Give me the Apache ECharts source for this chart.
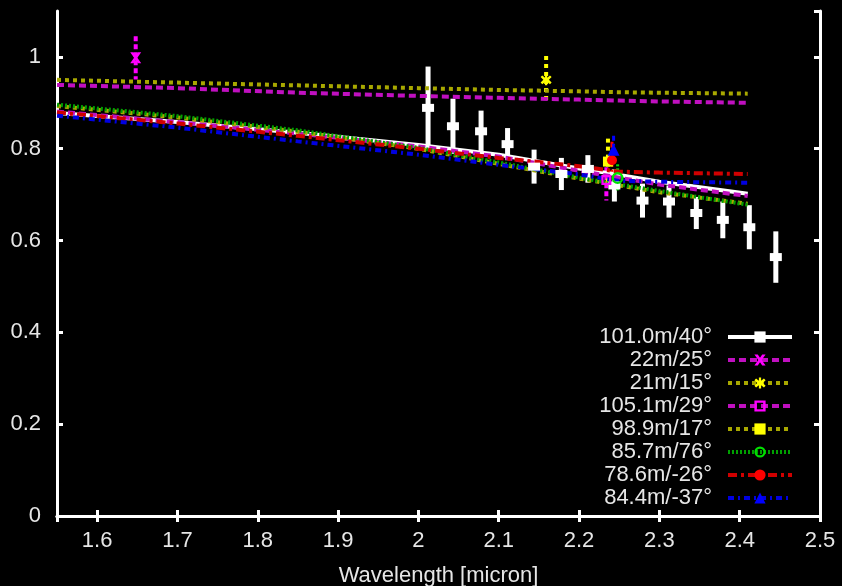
<!DOCTYPE html>
<html>
<head>
<meta charset="utf-8">
<script src="https://cdn.jsdelivr.net/npm/echarts@6/dist/echarts.min.js"></script>
<style>
html,body{margin:0;padding:0;background:#000;}
#chart{width:842px;height:586px;}
</style>
</head>
<body>
<div id="chart"></div>
<script>
// ---- data ----
const seriesNames = ['101.0m/40°', '22m/25°', '21m/15°', '105.1m/29°', '98.9m/17°', '85.7m/76°', '78.6m/-26°', '84.4m/-37°'];

// model curves (wavelength grid and values)
const modelX = [1.55, 1.7, 1.85, 2.0, 2.1, 2.2, 2.25, 2.3, 2.41];
const model_101 = [0.878, 0.858, 0.835, 0.808, 0.787, 0.757, 0.743, 0.728, 0.702];
const model_22  = [0.939, 0.932, 0.922, 0.915, 0.911, 0.907, 0.905, 0.903, 0.900];
const model_21  = [0.950, 0.944, 0.938, 0.932, 0.928, 0.925, 0.923, 0.922, 0.920];
const model_105 = [0.881, 0.858, 0.833, 0.805, 0.783, 0.752, 0.737, 0.722, 0.697];
const model_98  = [0.893, 0.868, 0.837, 0.800, 0.767, 0.735, 0.720, 0.705, 0.680];
const model_85  = [0.896, 0.871, 0.840, 0.802, 0.770, 0.737, 0.722, 0.708, 0.678];
const model_78  = [0.879, 0.855, 0.828, 0.800, 0.780, 0.762, 0.750, 0.748, 0.745];
const model_84  = [0.872, 0.846, 0.816, 0.787, 0.765, 0.744, 0.730, 0.728, 0.726];

// measured points: wavelength, value, error
const obs101X = [2.012, 2.043, 2.078, 2.111, 2.144, 2.178, 2.211, 2.244, 2.279, 2.312, 2.346, 2.379, 2.412, 2.445];
const obs101Y = [0.889, 0.849, 0.838, 0.810, 0.761, 0.745, 0.756, 0.720, 0.687, 0.685, 0.660, 0.645, 0.629, 0.564];
const obs101E = [0.090, 0.060, 0.045, 0.035, 0.037, 0.035, 0.030, 0.035, 0.037, 0.035, 0.035, 0.040, 0.048, 0.056];
const obs22  = [1.648, 0.998, 0.047];
const obs21  = [2.159, 0.950, 0.052];
const obs105 = [2.234, 0.732, 0.045];
const obs98  = [2.236, 0.772, 0.050];
const obs85  = [2.248, 0.736, 0.030];
const obs78  = [2.241, 0.775, 0.040];
const obs84  = [2.243, 0.798, 0.030];

const xTicksMin = 1.55, xTicksMax = 2.5;
const yTicksMin = 0, yTicksMax = 1.1, yTickStep = 0.2;

// ---- styles ----
const FONT = 'Liberation Sans';
const hollowSquare = 'path://M0,0 L10,0 L10,10 L0,10 Z M2.2,2.2 L2.2,7.8 L7.8,7.8 L7.8,2.2 Z';
const hollowCircle = 'path://M5,0 A5,5 0 1,1 5,10 A5,5 0 1,1 5,0 Z M5,2 A3,3 0 1,0 5,8 A3,3 0 1,0 5,2 Z';
const crossSym = 'path://M0,0 L3,0 L5,3 L7,0 L10,0 L6.5,5 L10,10 L7,10 L5,7 L3,10 L0,10 L3.5,5 Z';
const starSym = 'path://M4,0 L6,0 L6,3 L8.5,1 L10,2.5 L7.5,5 L10,7.5 L8.5,9 L6,7 L6,10 L4,10 L4,7 L1.5,9 L0,7.5 L2.5,5 L0,2.5 L1.5,1 L4,3 Z';

const defs = [
  {name: seriesNames[0], model: model_101, color: '#ffffff', lineColor: '#ffffff', dash: 'solid', width: 4, symbol: 'rect', size: [12, 8], ebWidth: 5, ebDash: null},
  {name: seriesNames[1], model: model_22, obs: obs22, color: '#ff00ff', lineColor: '#c010c0', dash: [7, 4], width: 4, symbol: crossSym, size: 11, ebWidth: 4, ebDash: [5, 3]},
  {name: seriesNames[2], model: model_21, obs: obs21, color: '#ffff00', lineColor: '#a8a800', dash: [4, 4], width: 4, symbol: starSym, size: 11, ebWidth: 4, ebDash: [4, 4]},
  {name: seriesNames[3], model: model_105, obs: obs105, color: '#ff00ff', lineColor: '#c010c0', dash: [7, 4], width: 4, symbol: hollowSquare, size: 10, ebWidth: 4, ebDash: [5, 3]},
  {name: seriesNames[4], model: model_98, obs: obs98, color: '#ffff00', lineColor: '#a8a800', dash: [4, 4], width: 4, symbol: 'rect', size: 10, ebWidth: 4, ebDash: [4, 4]},
  {name: seriesNames[5], model: model_85, obs: obs85, color: '#00e000', lineColor: '#00a000', dash: [2, 2], width: 4, symbol: hollowCircle, size: 12, ebWidth: 3, ebDash: [2, 2]},
  {name: seriesNames[6], model: model_78, obs: obs78, color: '#ff0000', lineColor: '#d00000', dash: [9, 4, 3, 4], width: 4, symbol: 'circle', size: 10, ebWidth: 3, ebDash: [6, 3, 2, 3]},
  {name: seriesNames[7], model: model_84, obs: obs84, color: '#0000ff', lineColor: '#0000e0', dash: [6, 4, 2, 4], width: 4, symbol: 'triangle', size: 12, ebWidth: 3, ebDash: [5, 3, 2, 3]}
];

function errRender(d) {
  return function (params, api) {
    const x = api.value(0), y = api.value(1), e = api.value(2);
    const p1 = api.coord([x, y + e]);
    const p2 = api.coord([x, y - e]);
    const style = {stroke: d.color, lineWidth: d.ebWidth};
    if (d.ebDash) style.lineDash = d.ebDash;
    return {type: 'line', shape: {x1: p1[0], y1: p1[1], x2: p2[0], y2: p2[1]}, style: style};
  };
}

const series = [];
// error bars first (drawn below)
defs.forEach(function (d, i) {
  let data;
  if (i === 0) {
    data = obs101X.map(function (x, k) { return [x, obs101Y[k], obs101E[k]]; });
  } else {
    data = [d.obs];
  }
  series.push({
    type: 'custom', name: 'eb' + i, renderItem: errRender(d), data: data,
    encode: {x: 0, y: 1}, silent: true, z: 3
  });
});
// model lines (legend entries)
defs.forEach(function (d, i) {
  series.push({
    type: 'line', name: d.name, data: modelX.map(function (x, k) { return [x, d.model[k]]; }),
    showSymbol: false, symbol: d.symbol, symbolSize: d.size,
    itemStyle: {color: d.color},
    lineStyle: {color: d.lineColor, width: d.width, type: d.dash},
    smooth: false, silent: true, animation: false, z: i === 0 ? 4 : 5
  });
});
// measured points markers
defs.forEach(function (d, i) {
  let data;
  if (i === 0) {
    data = obs101X.map(function (x, k) { return [x, obs101Y[k]]; });
  } else {
    data = [[d.obs[0], d.obs[1]]];
  }
  series.push({
    type: 'scatter', name: 'pt' + i, data: data, symbol: d.symbol, symbolSize: d.size,
    itemStyle: {color: d.color, opacity: 1}, silent: true, z: 6
  });
});

const labelColor = '#e6e6e6';
const frameLine = {show: true, lineStyle: {color: '#ffffff', width: 3}};
const tickStyle = {show: true, inside: true, length: 6, lineStyle: {color: '#ffffff', width: 3}};

const option = {
  backgroundColor: '#000000',
  animation: false,
  grid: {left: 57, right: 22, top: 11, bottom: 70, containLabel: false, outerBoundsMode: 'none'},
  legend: {
    data: seriesNames,
    orient: 'vertical', right: 43, top: 321, align: 'right',
    itemWidth: 64, itemHeight: 14, itemGap: 1,
    lineStyle: {width: 4},
    textStyle: {color: labelColor, fontFamily: FONT, fontSize: 22, lineHeight: 22, padding: [0, 11, 0, 0]},
    selectedMode: false
  },
  xAxis: [
    {type: 'value', position: 'bottom', min: xTicksMin, max: xTicksMax, splitNumber: 10,
     axisLine: frameLine, axisTick: tickStyle, splitLine: {show: false},
     axisLabel: {color: labelColor, fontFamily: FONT, fontSize: 22, margin: 14, showMinLabel: false},
     name: 'Wavelength [micron]', nameLocation: 'middle', nameGap: 49,
     nameTextStyle: {color: labelColor, fontFamily: FONT, fontSize: 22}},
    {type: 'value', position: 'top', min: xTicksMin, max: xTicksMax, splitNumber: 10,
     axisLine: frameLine, axisTick: tickStyle, splitLine: {show: false}, axisLabel: {show: false}}
  ],
  yAxis: [
    {type: 'value', position: 'left', min: yTicksMin, max: yTicksMax, interval: yTickStep,
     axisLine: frameLine, axisTick: tickStyle, splitLine: {show: false},
     axisLabel: {color: labelColor, fontFamily: FONT, fontSize: 22, margin: 16, showMaxLabel: false}},
    {type: 'value', position: 'right', min: yTicksMin, max: yTicksMax, interval: yTickStep,
     axisLine: frameLine, axisTick: tickStyle, splitLine: {show: false}, axisLabel: {show: false}}
  ],
  series: series
};

const chart = echarts.init(document.getElementById('chart'));
chart.setOption(option);
</script>
</body>
</html>
